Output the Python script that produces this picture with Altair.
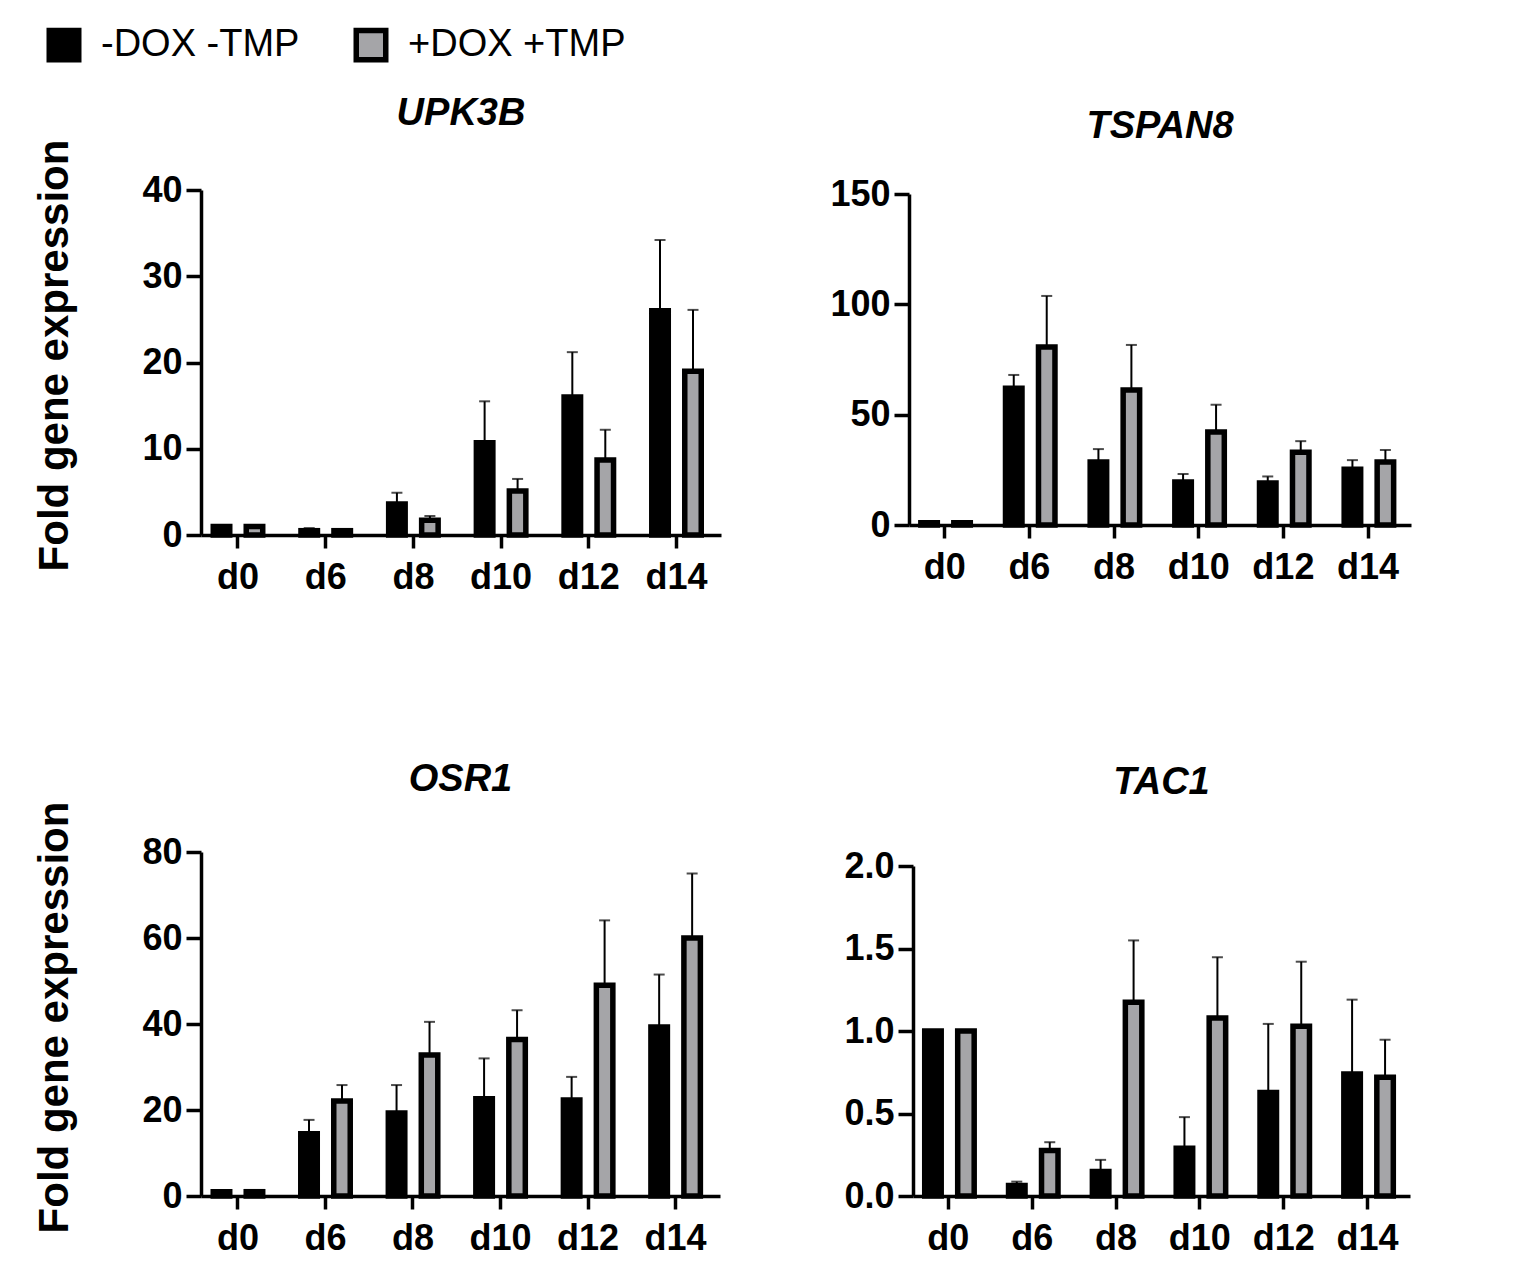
import altair as alt
import pandas as pd

days = ["d0", "d6", "d8", "d10", "d12", "d14"]
groups = ["-DOX -TMP", "+DOX +TMP"]

upk3b_ctrl = [1.0, 0.5, 3.6, 10.7, 16.0, 26.0]
upk3b_ctrl_err = [0.0, 0.3, 1.3, 4.8, 5.2, 8.2]
upk3b_trt = [1.0, 0.5, 1.7, 5.1, 8.7, 19.0]
upk3b_trt_err = [0.0, 0.15, 0.5, 1.4, 3.5, 7.1]

tspan8_ctrl = [1.0, 62.0, 28.5, 19.5, 19.0, 25.3]
tspan8_ctrl_err = [0.0, 6.0, 5.9, 3.6, 3.0, 4.1]
tspan8_trt = [1.0, 80.7, 61.2, 42.1, 33.0, 28.5]
tspan8_trt_err = [0.0, 23.1, 20.4, 12.4, 5.0, 5.5]

osr1_ctrl = [1.0, 14.5, 19.3, 22.6, 22.3, 39.3]
osr1_ctrl_err = [0.0, 3.2, 6.5, 9.4, 5.4, 12.2]
osr1_trt = [1.0, 22.1, 32.8, 36.4, 49.0, 60.0]
osr1_trt_err = [0.0, 3.7, 7.7, 6.8, 15.1, 15.0]

tac1_ctrl = [1.0, 0.063, 0.148, 0.29, 0.628, 0.739]
tac1_ctrl_err = [0.0, 0.024, 0.071, 0.188, 0.415, 0.451]
tac1_trt = [1.0, 0.276, 1.174, 1.079, 1.029, 0.719]
tac1_trt_err = [0.0, 0.05, 0.375, 0.368, 0.391, 0.228]

FONT = "Liberation Sans"
Y_TITLE = "Fold gene expression"
BAR_STROKE = 5.5


def make_df(ctrl, ctrl_err, trt, trt_err):
    rows = []
    for i, d in enumerate(days):
        rows.append({"day": d, "group": groups[0], "value": ctrl[i], "err": ctrl_err[i], "top": ctrl[i] + ctrl_err[i]})
        rows.append({"day": d, "group": groups[1], "value": trt[i], "err": trt_err[i], "top": trt[i] + trt_err[i]})
    return pd.DataFrame(rows)


def panel(name, ctrl, ctrl_err, trt, trt_err, ticks, fmt, width, height, title_dy, show_title):
    df = make_df(ctrl, ctrl_err, trt, trt_err)
    base = alt.Chart(df)
    x = alt.X(
        "day:N", sort=days,
        scale=alt.Scale(paddingInner=0.436, paddingOuter=0.1825, align=0.383),
        axis=alt.Axis(title=None, labelAngle=0, tickSize=13, labelPadding=12),
    )
    xo = alt.XOffset("group:N", sort=groups, scale=alt.Scale(domain=groups, paddingInner=0.5, paddingOuter=0))
    yax = dict(values=ticks, format=fmt, tickSize=15, labelPadding=4)
    if show_title:
        yax.update(title=Y_TITLE, titleFontSize=42, titleFont=FONT, titleFontWeight="bold",
                   titleColor="black", titlePadding=65, titleY=165)
    else:
        yax.update(title=None)
    y = alt.Y("value:Q", scale=alt.Scale(domain=[ticks[0], ticks[-1]], nice=False, zero=True),
              axis=alt.Axis(**yax))
    bars = base.mark_bar(stroke="black", strokeWidth=BAR_STROKE).encode(
        x=x, xOffset=xo, y=y,
        color=alt.Color("group:N", sort=groups,
                        scale=alt.Scale(domain=groups, range=["#000000", "#a5a5a8"]),
                        legend=alt.Legend(title=None)),
    )
    errs = base.transform_filter("datum.err > 0")
    rule = errs.mark_rule(strokeWidth=2, color="black").encode(
        x=x, xOffset=xo, y="value:Q", y2="top:Q")
    cap = errs.mark_tick(thickness=2, size=11, color="black").encode(
        x=x, xOffset=xo, y="top:Q")
    return alt.layer(rule, cap, bars).properties(
        width=width, height=height,
        title=alt.TitleParams(name, font=FONT, fontSize=38, fontWeight="bold", fontStyle="italic",
                              color="black", anchor="middle", baseline="alphabetic",
                              frame="group", offset=0, dy=title_dy),
    )


def spacer():
    return alt.Chart(pd.DataFrame({"a": [0]})).mark_point(opacity=0).encode(
        x=alt.X("a:Q", axis=None), y=alt.Y("a:Q", axis=None)
    ).properties(width=1, height=1)


p1 = panel("UPK3B", upk3b_ctrl, upk3b_ctrl_err, upk3b_trt, upk3b_trt_err,
           [0, 10, 20, 30, 40], "d", 520, 345, 24, True)
p2 = panel("TSPAN8", tspan8_ctrl, tspan8_ctrl_err, tspan8_trt, tspan8_trt_err,
           [0, 50, 100, 150], "d", 502, 331, 0, False)
p3 = panel("OSR1", osr1_ctrl, osr1_ctrl_err, osr1_trt, osr1_trt_err,
           [0, 20, 40, 60, 80], "d", 519, 344, 28, True)
p4 = panel("TAC1", tac1_ctrl, tac1_ctrl_err, tac1_trt, tac1_trt_err,
           [0, 0.5, 1.0, 1.5, 2.0], ".1f", 497, 330, -16, False)

col2 = alt.vconcat(spacer(), p2, spacing=3, bounds="flush")
col4 = alt.vconcat(spacer(), p4, spacing=13, bounds="flush")
row1 = alt.hconcat(p1, col2, spacing=188, bounds="flush")
row2 = alt.hconcat(p3, col4, spacing=193, bounds="flush")

chart = alt.vconcat(row1, row2, spacing=662, bounds="flush").properties(
    padding={"left": 25, "top": 18, "right": 5, "bottom": 5}
).configure_view(stroke=None).configure_axis(
    domainColor="black", domainWidth=3.5, tickColor="black", tickWidth=3.5,
    labelFont=FONT, labelFontSize=36, labelFontWeight="bold", labelColor="black",
    grid=False, zindex=1,
).configure_legend(
    orient="none", legendX=-156, legendY=-164, direction="horizontal",
    symbolType="square", symbolSize=870, symbolStrokeColor="black", symbolStrokeWidth=5.5,
    labelFont=FONT, labelFontSize=38, labelColor="black", labelOffset=18, columnPadding=45,
    labelLimit=500, symbolOpacity=1,
)

chart.save("out.html", embed_options={"renderer": "svg", "actions": False})
